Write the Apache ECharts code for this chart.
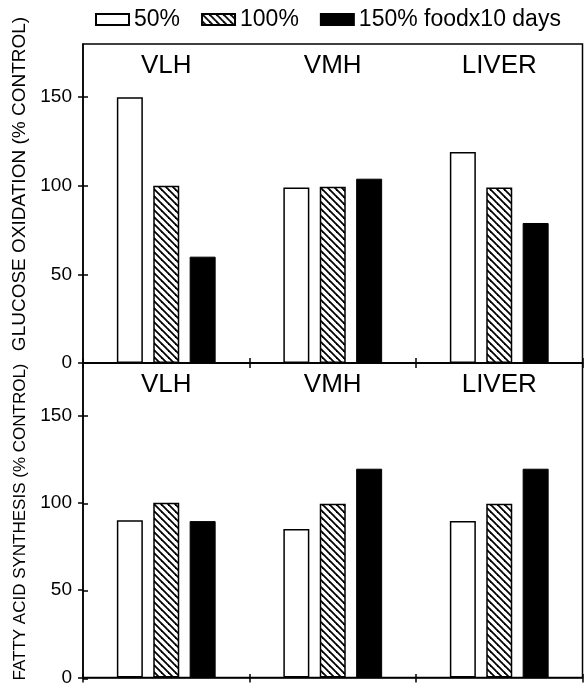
<!DOCTYPE html>
<html><head><meta charset="utf-8">
<script src="https://cdn.jsdelivr.net/npm/echarts@6/dist/echarts.min.js"></script>
<style>html,body{margin:0;padding:0;background:#fff}#c{width:584px;height:687px}</style>
</head><body><div id="c"></div>
<script>
const categories = ['VLH', 'VMH', 'LIVER'];
const seriesNames = ['50%', '100%', '150% foodx10 days'];
const glucose50 = [150, 99, 119];
const glucose100 = [100, 99.5, 99];
const glucose150 = [60, 104, 79];
const fatty50 = [90, 85, 89.5];
const fatty100 = [100, 99.5, 99.5];
const fatty150 = [89.5, 119.5, 119.5];
const yTicks = [0, 50, 100, 150];
const yNames = ['GLUCOSE OXIDATION (% CONTROL)', 'FATTY ACID SYNTHESIS (% CONTROL)'];

const FONT = 'Liberation Sans';
const BLACK = '#000';

function hatch() {
  const s = 7;
  const c = document.createElement('canvas');
  c.width = s; c.height = s;
  const g = c.getContext('2d');
  g.fillStyle = '#fff'; g.fillRect(0, 0, s, s);
  g.strokeStyle = '#000'; g.lineWidth = 1.8;
  for (const o of [-s, 0, s]) {
    g.beginPath(); g.moveTo(o - 1, -1); g.lineTo(o + s + 1, s + 1); g.stroke();
  }
  return c;
}
const hatchPattern = { image: hatch(), repeat: 'repeat' };

const styles = [
  { color: '#fff', borderColor: BLACK, borderWidth: 1.5 },
  { color: hatchPattern, borderColor: BLACK, borderWidth: 1.5 },
  { color: BLACK, borderColor: BLACK, borderWidth: 1 }
];

const gridRects = [
  { left: 83, right: 1.5, top: 44, height: 319 },
  { left: 83, right: 1.5, top: 363, height: 316 }
];

const tickStyle = { color: BLACK, width: 1.5 };

const grids = [];
gridRects.forEach(r => grids.push(Object.assign({ show: true, borderColor: BLACK, borderWidth: 1.5, backgroundColor: 'transparent' }, r)));
gridRects.forEach(r => grids.push(Object.assign({ show: false }, r)));

const xAxes = [];
[0, 1].forEach(i => xAxes.push({
  type: 'category', gridIndex: i, data: categories, position: 'bottom',
  axisLine: { show: true, lineStyle: tickStyle },
  axisTick: { show: true, length: 5, interval: 0, lineStyle: tickStyle },
  axisLabel: { show: false }, splitLine: { show: false }
}));
[0, 1].forEach(i => xAxes.push({
  type: 'category', gridIndex: i, data: categories, position: 'top',
  axisLine: { show: false }, axisTick: { show: false },
  axisLabel: { show: true, inside: true, margin: 9, fontSize: 26, fontFamily: FONT, color: BLACK, interval: 0 },
  splitLine: { show: false }
}));
[2, 3].forEach(i => xAxes.push({
  type: 'category', gridIndex: i, data: categories, position: 'bottom',
  axisLine: { show: false },
  axisTick: { show: true, inside: true, length: 5, interval: 0, lineStyle: tickStyle },
  axisLabel: { show: false }, splitLine: { show: false }
}));

const yAxes = [];
[0, 1].forEach(i => yAxes.push({
  type: 'value', gridIndex: i, min: 0, max: 180,
  axisLine: { show: true, lineStyle: tickStyle },
  axisTick: { show: true, length: 5, lineStyle: tickStyle, customValues: yTicks },
  axisLabel: { show: true, customValues: yTicks, fontSize: 19, fontFamily: FONT, color: BLACK, margin: 11 },
  splitLine: { show: false }
}));
[2, 3].forEach(i => yAxes.push({
  type: 'value', gridIndex: i, min: 0, max: 180,
  axisLine: { show: false },
  axisTick: { show: true, inside: true, length: 5, lineStyle: tickStyle, customValues: yTicks },
  axisLabel: { show: false }, splitLine: { show: false }
}));

const panelData = [[glucose50, glucose100, glucose150], [fatty50, fatty100, fatty150]];
const series = [];
panelData.forEach((arrs, p) => arrs.forEach((d, k) => series.push({
  type: 'bar', name: seriesNames[k], xAxisIndex: p, yAxisIndex: p, data: d,
  barWidth: 26, barGap: '40%', itemStyle: styles[k], emphasis: { disabled: true }, animation: false
})));

const chart = echarts.init(document.getElementById('c'));
chart.setOption({
  animation: false,
  legend: {
    data: seriesNames, left: 90, top: 3, itemWidth: 33, itemHeight: 11, itemGap: 21,
    icon: 'rect', selectedMode: false,
    textStyle: { fontSize: 23, fontFamily: FONT, color: BLACK }
  },
  grid: grids, xAxis: xAxes, yAxis: yAxes, series: series,
  graphic: [
    { type: 'text', x: 20, y: 184, rotation: Math.PI / 2,
      style: { text: yNames[0], fontSize: 19, fontFamily: FONT, fill: BLACK, align: 'center', verticalAlign: 'middle' } },
    { type: 'text', x: 20, y: 522, rotation: Math.PI / 2,
      style: { text: yNames[1], fontSize: 17, fontFamily: FONT, fill: BLACK, align: 'center', verticalAlign: 'middle' } }
  ]
});
</script></body></html>
